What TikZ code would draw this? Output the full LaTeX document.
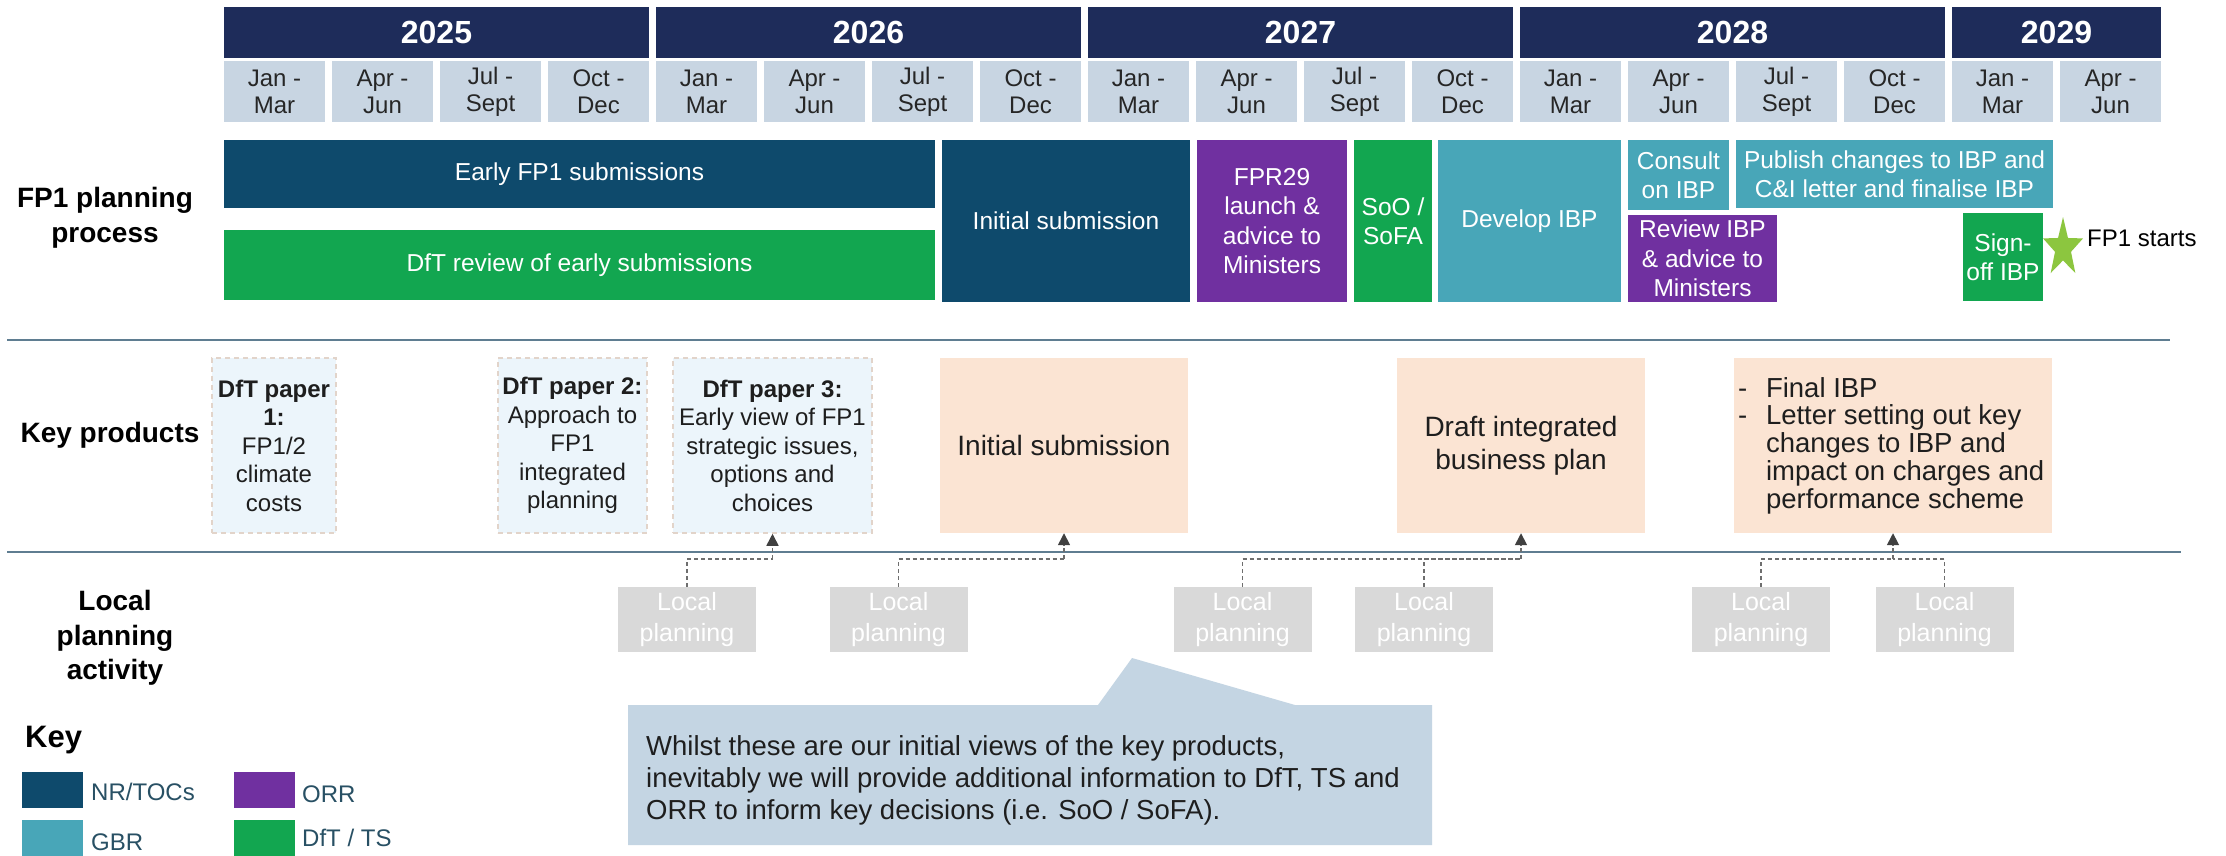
\documentclass[tikz,border=0pt]{standalone}
\usepackage{fontspec}
\setmainfont{Liberation Sans}
\usetikzlibrary{arrows.meta,shapes.geometric}
\definecolor{navy}{RGB}{30,44,90}
\definecolor{qfill}{RGB}{200,213,226}
\definecolor{qtext}{RGB}{38,38,38}
\definecolor{nrc}{RGB}{14,74,108}
\definecolor{gbr}{RGB}{72,166,184}
\definecolor{orr}{RGB}{112,48,160}
\definecolor{dft}{RGB}{18,166,80}
\definecolor{starg}{RGB}{140,198,63}
\definecolor{peach}{RGB}{251,228,211}
\definecolor{paperbl}{RGB}{236,245,251}
\definecolor{paperbd}{RGB}{226,212,202}
\definecolor{lpgray}{RGB}{217,217,217}
\definecolor{callf}{RGB}{196,213,227}
\definecolor{sepc}{RGB}{95,125,145}
\definecolor{connc}{RGB}{110,110,110}
\definecolor{arrc}{RGB}{64,64,64}
\definecolor{dark}{RGB}{30,30,30}
\definecolor{legc}{RGB}{40,80,100}
\newcommand\qlabel[1]{\ifcase#1 Jan -\\Mar\or Apr -\\Jun\or Jul -\\Sept\or Oct -\\Dec\fi}
\begin{document}
\begin{tikzpicture}[x=1pt,y=-1pt,
  yr/.style={fill=navy,text=white,font=\fontsize{32}{36}\selectfont\bfseries,inner sep=0,minimum height=51pt},
  qt/.style={fill=qfill,text=qtext,font=\fontsize{24}{27}\selectfont,align=center,inner sep=0,minimum width=101pt,minimum height=61pt},
  bar/.style={text=white,font=\fontsize{24.5}{29.5}\selectfont,align=center,inner sep=0},
  paper/.style={fill=paperbl,draw=paperbd,dash pattern=on 5pt off 4pt,line width=1.5pt,text=dark,font=\fontsize{24}{28.5}\selectfont,align=center,inner sep=0,minimum height=175pt},
  prod/.style={fill=peach,text=dark,font=\fontsize{28}{33}\selectfont,align=center,inner sep=0,minimum height=175pt},
  lp/.style={fill=lpgray,text=white,font=\fontsize{25}{31}\selectfont,align=center,inner sep=0,minimum width=138pt,minimum height=65pt},
  lab/.style={text=black,font=\fontsize{28}{34.5}\selectfont\bfseries,align=center,inner sep=0},
  conn/.style={draw=connc,line width=1.6pt,dash pattern=on 4pt off 3pt},
  arrowc/.style={conn,-{Triangle[width=12pt,length=12pt,color=arrc]}},
  sepline/.style={draw=sepc,line width=2.5pt},
  sw/.style={inner sep=0,minimum width=61pt,minimum height=36pt},
  legt/.style={anchor=west,inner sep=0,text=legc,font=\fontsize{24}{28}\selectfont}
]
\useasboundingbox (0,0) rectangle (2226,855);
\fill[white] (0,0) rectangle (2226,855);

% year headers
\foreach \n/\cx/\w in {2025/436.5/425,2026/868.5/425,2027/1300.5/425,2028/1732.5/425,2029/2056.5/209}
  \node[yr,minimum width=\w pt] (y\n) at (\cx,32.5) {\n};
% quarters
\foreach \i in {0,...,17}{
  \pgfmathtruncatemacro\m{mod(\i,4)}
  \node[qt] (q\i) at ({274.5+108*\i},91.5) {\qlabel{\m}};
}

% FP1 planning process row
\node[bar,fill=nrc,minimum width=711pt,minimum height=68pt] (efp) at (579.5,174) {Early FP1 submissions};
\node[bar,fill=dft,minimum width=711pt,minimum height=70pt] (dftr) at (579.5,265) {DfT review of early submissions};
\node[bar,fill=nrc,minimum width=248pt,minimum height=162pt] (isub) at (1066,221) {Initial submission};
\node[bar,fill=orr,minimum width=150pt,minimum height=162pt] (fpr) at (1272,221) {FPR29\\launch \&\\advice to\\Ministers};
\node[bar,fill=dft,minimum width=78pt,minimum height=162pt] (soo) at (1393,221) {SoO /\\SoFA};
\node[bar,fill=gbr,minimum width=183pt,minimum height=162pt] (dev) at (1529.5,221) {Develop IBP};
\node[bar,fill=gbr,minimum width=101pt,minimum height=70pt] (cons) at (1678.5,175) {Consult\\on IBP};
\node[bar,fill=gbr,minimum width=317pt,minimum height=68pt] (pub) at (1894.5,174) {Publish changes to IBP and\\C\&I letter and finalise IBP};
\node[bar,fill=orr,minimum width=149pt,minimum height=87pt] (rev) at (1702.5,258.5) {Review IBP\\\& advice to\\Ministers};
\node[bar,fill=dft,minimum width=80pt,minimum height=88pt] (sign) at (2003,257) {Sign-\\off IBP};
\fill[starg] (2063,217) -- (2058.06,237.97) -- (2043.03,238.42) -- (2055.01,251.83) -- (2050.66,273.08)
  -- (2063,260.4) -- (2075.34,273.08) -- (2070.99,251.83) -- (2082.97,238.42) -- (2067.94,237.97) -- cycle;
\node[anchor=west,inner sep=0,text=black,font=\fontsize{24}{28}\selectfont] (fp1s) at (2087,238) {FP1 starts};

% separators
\draw[sepline] (7,340) -- (2170,340);
\draw[sepline] (7,552) -- (2181,552);

% key products row
\node[paper,minimum width=124pt] (p1) at (274,445.5) {\textbf{DfT paper}\\\textbf{1:}\\FP1/2\\climate\\costs};
\node[paper,minimum width=149pt] (p2) at (572.5,445.5) {\textbf{DfT paper 2:}\\Approach to\\FP1\\integrated\\planning};
\node[paper,minimum width=199pt] (p3) at (772.5,445.5) {\textbf{DfT paper 3:}\\Early view of FP1\\strategic issues,\\options and\\choices};
\node[prod,minimum width=248pt] (kis) at (1064,445.5) {Initial submission};
\node[prod,minimum width=248pt] (dibp) at (1521,445.5) {Draft integrated\\business plan};
\node[prod,minimum width=318pt] (fibp) at (1893,445.5) {};
\node[anchor=west,align=left,inner sep=0,text=dark,font=\fontsize{27.5}{27.7}\selectfont] (fibpt) at ([xshift=4pt]fibp.west)
  {\makebox[28pt][l]{-}Final IBP\\\makebox[28pt][l]{-}Letter setting out key\\\hspace*{28pt}changes to IBP and\\\hspace*{28pt}impact on charges and\\\hspace*{28pt}performance scheme};

% local planning
\foreach \n/\cx in {1/687,2/898.5,3/1242.5,4/1424,5/1761,6/1944.5}
  \node[lp] (lp\n) at (\cx,619.5) {Local\\planning};
\coordinate (j1) at (772.5,559);
\coordinate (j2) at (1064,559);
\coordinate (j3) at (1521,559);
\coordinate (j4) at (1893,559);
\draw[conn] (lp1.north) |- (j1);
\draw[arrowc] (j1) -- (p3.south);
\draw[conn] (lp2.north) |- (j2);
\draw[arrowc] (j2) -- (kis.south);
\draw[conn] (lp3.north) |- (j3);
\draw[conn] (lp4.north) |- (j3);
\draw[arrowc] (j3) -- (dibp.south);
\draw[conn] (lp5.north) |- (j4);
\draw[conn] (lp6.north) |- (j4);
\draw[arrowc] (j4) -- (fibp.south);

% row labels
\node[lab] (lab1) at (105,218) {FP1 planning\\process};
\node[lab] (lab2) at (110,435) {Key products};
\node[lab] (lab3) at (115,638) {Local\\planning\\activity};

% callout
\fill[callf] (628,705) -- (1098,705) -- (1132,658) -- (1295,705) -- (1432,705) -- (1432,845) -- (628,845) -- cycle;
\node[anchor=west,align=left,inner sep=0,text=dark,font=\fontsize{27.5}{32}\selectfont] (callt) at (646,780)
  {Whilst these are our initial views of the key products,\\inevitably we will provide additional information to DfT, TS and\\ORR to inform key decisions (i.e. SoO / SoFA).};

% key
\node[anchor=west,inner sep=0,text=black,font=\fontsize{31}{36}\selectfont\bfseries] (key) at (25,740) {Key};
\node[sw,fill=nrc] (swnr) at (52.5,790) {};
\node[legt] (tnr) at (91,792) {NR/TOCs};
\node[sw,fill=gbr] (swgbr) at (52.5,838) {};
\node[legt] (tgbr) at (91,842) {GBR};
\node[sw,fill=orr] (sworr) at (264,790) {};
\node[legt] (torr) at (302,794) {ORR};
\node[sw,fill=dft] (swdft) at (264,838) {};
\node[legt] (tdft) at (302,838) {DfT / TS};
\end{tikzpicture}
\end{document}
